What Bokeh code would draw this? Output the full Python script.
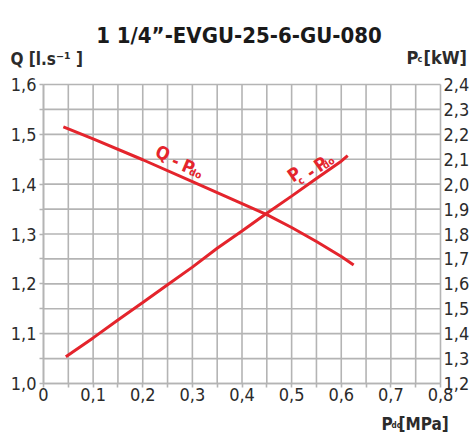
from bokeh.plotting import figure
from bokeh.models import Range1d, LinearAxis, FixedTicker, Label
from bokeh.embed import file_html
from bokeh.resources import INLINE

# ---- data ----
q_pdo = [0.04, 0.1, 0.2, 0.3, 0.4, 0.45, 0.5, 0.55, 0.6, 0.625]
q_vals = [1.515, 1.491, 1.449, 1.405, 1.361, 1.339, 1.313, 1.285, 1.255, 1.238]

pc_pdo = [0.045, 0.1, 0.15, 0.2, 0.25, 0.3, 0.35, 0.4, 0.45, 0.5, 0.55, 0.6, 0.613]
pc_vals = [1.307, 1.383, 1.455, 1.525, 1.596, 1.667, 1.743, 1.812, 1.883, 1.952, 2.023, 2.092, 2.115]

x_ticks = [0, 0.1, 0.2, 0.3, 0.4, 0.5, 0.6, 0.7, 0.8]
x_labels = ["0", "0,1", "0,2", "0,3", "0,4", "0,5", "0,6", "0,7", "0,8"]
x_minor = [0.05, 0.15, 0.25, 0.35, 0.45, 0.55, 0.65, 0.75]

q_ticks = [1.0, 1.1, 1.2, 1.3, 1.4, 1.5, 1.6]
q_labels = ["1,0", "1,1", "1,2", "1,3", "1,4", "1,5", "1,6"]
q_minor = [1.05, 1.15, 1.25, 1.35, 1.45, 1.55]

pc_ticks = [1.2, 1.3, 1.4, 1.5, 1.6, 1.7, 1.8, 1.9, 2.0, 2.1, 2.2, 2.3, 2.4]
pc_labels = ["1,2", "1,3", "1,4", "1,5", "1,6", "1,7", "1,8", "1,9", "2,0", "2,1", "2,2", "2,3", "2,4"]

title_text = "1 1/4\u201d-EVGU-25-6-GU-080"

FONT = "DejaVu Sans Condensed"
RED = "#e4242c"
GRID = "#b4b4b4"
TXT = "#2b2b2b"

# ---- layout constants (pixels) ----
W, H = 473, 433
PL, PR, PT, PB = 43, 440, 84, 383          # plot area edges on the canvas
X0, X1 = x_ticks[0], x_ticks[-1]
Q0, Q1 = q_ticks[0], q_ticks[-1]
C0, C1 = pc_ticks[0], pc_ticks[-1]
kx = (X1 - X0) / (PR - PL)
kq = (Q1 - Q0) / (PB - PT)
kc = (C1 - C0) / (PB - PT)

p = figure(width=W, height=H,
           x_range=Range1d(X0 - PL * kx, X1 + (W - PR) * kx),
           y_range=Range1d(Q0 - (H - PB) * kq, Q1 + PT * kq),
           output_backend="svg", toolbar_location=None,
           min_border=0, min_border_left=0, min_border_right=0,
           min_border_top=0, min_border_bottom=0,
           outline_line_color=None)
p.extra_y_ranges = {"pc": Range1d(C0 - (H - PB) * kc, C1 + PT * kc)}
p.grid.visible = False

# grid lines on the tick positions, limited to the plot area
xg = sorted(x_ticks + x_minor)
yg = sorted(q_ticks + q_minor)
p.segment(x0=xg, y0=[Q0] * len(xg), x1=xg, y1=[Q1] * len(xg),
          line_color=GRID, line_width=1.6)
p.segment(x0=[X0] * len(yg), y0=yg, x1=[X1] * len(yg), y1=yg,
          line_color=GRID, line_width=1.6)

p.line(q_pdo, q_vals, line_color=RED, line_width=3)
p.line(pc_pdo, pc_vals, line_color=RED, line_width=3, y_range_name="pc")

# axes fixed at the plot-area edges
xax = p.xaxis[0]
yax = p.yaxis[0]
xax.ticker = FixedTicker(ticks=x_ticks, minor_ticks=x_minor)
yax.ticker = FixedTicker(ticks=q_ticks, minor_ticks=q_minor)
xax.major_label_overrides = dict(zip(x_ticks, x_labels))
yax.major_label_overrides = dict(zip(q_ticks, q_labels))
xax.fixed_location = Q0
xax.bounds = (X0, X1)
yax.fixed_location = X0
yax.bounds = (Q0, Q1)

right = LinearAxis(y_range_name="pc",
                   ticker=FixedTicker(ticks=pc_ticks, minor_ticks=[]),
                   major_label_overrides=dict(zip(pc_ticks, pc_labels)),
                   fixed_location=X1, bounds=(C0, C1))
p.add_layout(right, "right")

for ax in (xax, yax, right):
    ax.axis_line_color = GRID
    ax.axis_line_width = 1.6
    ax.major_tick_line_color = GRID
    ax.minor_tick_line_color = GRID
    ax.major_tick_line_width = 1.6
    ax.minor_tick_line_width = 1.6
    ax.major_tick_in = 0
    ax.minor_tick_in = 0
    ax.major_label_text_font = FONT
    ax.major_label_text_font_size = "18px"
    ax.major_label_text_color = TXT

xax.major_tick_out = 4
xax.minor_tick_out = 4
xax.major_label_standoff = 0
yax.major_tick_out = 4
yax.minor_tick_out = 4
yax.major_label_standoff = 3
right.major_tick_out = 0
right.minor_tick_out = 0
right.axis_line_color = None
right.major_label_standoff = 3


def lbl(text, x, y, size, color=TXT, angle=0, align="left",
        baseline="alphabetic", units="screen"):
    if units == "screen":
        x, y = x, H - y          # given as canvas pixels from top-left
    p.add_layout(Label(text=text, x=x, y=y, x_units=units, y_units=units,
                       text_font=FONT, text_font_size=size,
                       text_font_style="bold",
                       text_color=color, angle=angle, angle_units="deg",
                       text_align=align, text_baseline=baseline))


# title and axis titles
lbl(title_text, 238.5, 35, "22px", color="#1a1a1a", align="center")
lbl("Q [l.s\u207b\u00b9 ]", 10, 58, "17px")
lbl("P", 406, 57, "18px")
lbl("c", 417, 58, "9px")
lbl("[kW]", 423, 57, "18px")
lbl("P", 381, 423, "17px")
lbl("do", 391, 425, "8px")
lbl("[MPa]", 398, 423, "17px")

# curve labels (data units)
lbl("Q", 0.2408, 1.4625, "18px", color=RED, angle=-23, align="center", baseline="middle", units="data")
lbl("-", 0.2670, 1.4475, "18px", color=RED, angle=-23, align="center", baseline="middle", units="data")
lbl("P", 0.2922, 1.4354, "18px", color=RED, angle=-23, align="center", baseline="middle", units="data")
lbl("do", 0.3063, 1.4214, "10px", color=RED, angle=-23, align="center", baseline="middle", units="data")

lbl("P", 0.5048, 1.4204, "18px", color=RED, angle=35, align="center", baseline="middle", units="data")
lbl("c", 0.5189, 1.4073, "10px", color=RED, angle=35, align="center", baseline="middle", units="data")
lbl("-", 0.5380, 1.4244, "18px", color=RED, angle=35, align="center", baseline="middle", units="data")
lbl("P", 0.5582, 1.4405, "18px", color=RED, angle=35, align="center", baseline="middle", units="data")
lbl("do", 0.5743, 1.4425, "10px", color=RED, angle=35, align="center", baseline="middle", units="data")

open("out.html", "w").write(file_html(p, INLINE))
